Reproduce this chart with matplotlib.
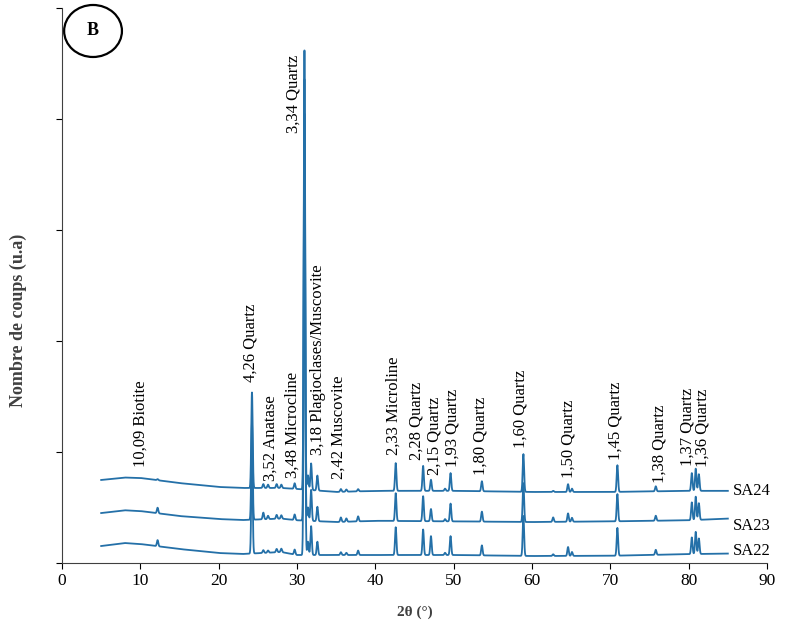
import numpy as np
import matplotlib.pyplot as plt
from matplotlib.patches import Ellipse

plt.rcParams['font.family'] = ['Liberation Serif', 'DejaVu Serif']

# ===== background (2theta, counts) for each sample =====
bg_x = [5, 8, 10, 15, 20, 23, 28, 30, 35, 40, 50, 60, 70, 80, 85]
bg_sa22 = [153, 180, 171, 126, 90, 81, 99, 72, 72, 72, 72, 63, 65, 80, 85]
bg_sa23 = [450, 475, 468, 423, 396, 387, 400, 385, 369, 380, 375, 369, 375, 385, 400]
bg_sa24 = [748, 770, 766, 720, 685, 676, 676, 667, 640, 650, 650, 640, 640, 650, 650]

# ===== diffraction peaks: position (2theta) and height above background =====
peak_pos = [12.2, 24.25, 25.7, 26.3, 27.4, 28.0, 29.7, 30.95, 31.4, 31.8, 32.6,
            35.6, 36.3, 37.8, 42.6, 46.1, 47.1, 48.9, 49.6, 53.6, 58.9,
            62.7, 64.6, 65.1, 70.9, 75.8, 80.4, 80.9, 81.3]
h_sa22 = [55, 880, 25, 20, 30, 30, 45, 4000, 120, 260, 120,
          25, 20, 40, 250, 230, 170, 20, 170, 90, 360,
          15, 80, 35, 250, 45, 150, 200, 140]
h_sa23 = [50, 870, 60, 30, 35, 30, 50, 4000, 120, 280, 130,
          40, 30, 45, 250, 225, 110, 20, 160, 90, 350,
          40, 75, 35, 245, 45, 160, 210, 150]
h_sa24 = [10, 865, 35, 30, 35, 30, 50, 3980, 130, 240, 135,
          25, 20, 20, 250, 225, 100, 20, 160, 90, 340,
          10, 70, 30, 240, 45, 160, 200, 150]

samples = ['SA22', 'SA23', 'SA24']
sample_label_y = [108, 333, 649]

# ===== peak annotations: text, 2theta, lower end of text (counts) =====
ann_text = ['10,09 Biotite', '4,26 Quartz', '3,52 Anatase', '3,48 Microcline',
            '3,34 Quartz', '3,18 Plagioclases/Muscovite', '2,42 Muscovite',
            '2,33 Microline', '2,28 Quartz', '2,15 Quartz', '1,93 Quartz',
            '1,80 Quartz', '1,60 Quartz', '1,50 Quartz', '1,45 Quartz',
            '1,38 Quartz', '1,37 Quartz', '1,36 Quartz']
ann_x = [10.0, 24.0, 26.6, 29.4, 29.5, 32.7, 35.3, 42.3, 45.3, 47.6, 49.8,
         53.4, 58.5, 64.6, 70.6, 76.3, 79.8, 81.8]
ann_y = [865, 1630, 740, 765, 3874, 973, 757, 973, 928, 793, 865,
         793, 1036, 766, 928, 720, 874, 865]

line_color = '#2470a8'


def profile(grid, bgy, heights, sigma=0.09):
    y = np.interp(grid, bg_x, bgy)
    for p, h in zip(peak_pos, heights):
        y = y + h * np.exp(-0.5 * ((grid - p) / sigma) ** 2)
    return y


fig = plt.figure(figsize=(7.87, 6.21), dpi=100)
ax = fig.add_axes([0.0788, 0.0934, 0.9746 - 0.0788, 0.9871 - 0.0934])

tt = np.arange(5, 85.001, 0.02)
for bgy, hs in [(bg_sa22, h_sa22), (bg_sa23, h_sa23), (bg_sa24, h_sa24)]:
    ax.plot(tt, profile(tt, bgy, hs), color=line_color, lw=1.3)

for name, ly in zip(samples, sample_label_y):
    ax.text(85.7, ly, name, fontsize=12, va='center', ha='left')

for t, x, y in zip(ann_text, ann_x, ann_y):
    ax.text(x, y, t, rotation=90, ha='center', va='bottom', fontsize=12)

ax.set_xlim(0, 90)
ax.set_ylim(0, 5000)
ax.set_xticks(np.arange(0, 91, 10))
ax.set_yticks(np.arange(0, 5001, 1000))
ax.set_yticklabels([])
ax.tick_params(axis='x', labelsize=12.5, length=4, direction='out')
ax.tick_params(axis='y', length=4, direction='out')
for s in ['top', 'right']:
    ax.spines[s].set_visible(False)
for s in ['left', 'bottom']:
    ax.spines[s].set_color('#404040')

ax.set_xlabel('2θ (°)', fontsize=11, fontweight='bold', color='#404040')
ax.xaxis.set_label_coords(0.5, -0.076)
ax.set_ylabel('Nombre de coups (u.a)', fontsize=13, fontweight='bold', color='#404040')
ax.yaxis.set_label_coords(-0.05, 0.438)

# panel tag
ax.add_patch(Ellipse((0.044, 0.9586), 0.082, 0.0937, transform=ax.transAxes,
                     fill=False, ec='black', lw=1.6, clip_on=False))
ax.text(0.044, 0.9586, 'B', transform=ax.transAxes, ha='center', va='center',
        fontsize=13, fontweight='bold')

fig.savefig('out.png', dpi=100)
